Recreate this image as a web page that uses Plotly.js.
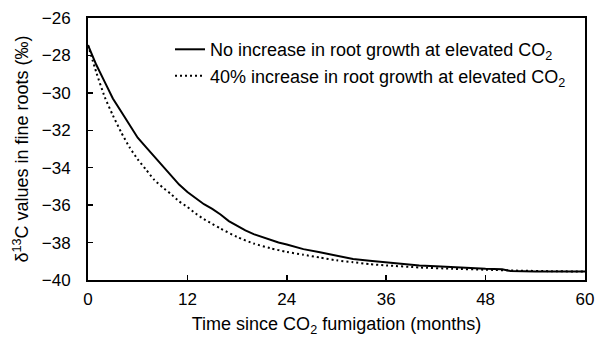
<!DOCTYPE html>
<html>
<head>
<meta charset="utf-8">
<script src="https://cdn.plot.ly/plotly-3.0.1.min.js"></script>
<style>html,body{margin:0;padding:0;background:#fff;}#chart{width:603px;height:338px;}</style>
</head>
<body>
<div id="chart"></div>
<script>
var monthsNoIncrease = [0,1,2,3,4,5,6,7,8,9,10,11,12,13,14,15,16,17,18,19,20,21,22,23,24,26,28,30,32,34,36,38,40,42,44,46,48,50,51,54,57,60];
var deltaNoIncrease = [-27.45,-28.5,-29.4,-30.3,-31.0,-31.7,-32.4,-32.9,-33.4,-33.9,-34.45,-34.9,-35.3,-35.65,-35.95,-36.2,-36.5,-36.85,-37.1,-37.35,-37.55,-37.7,-37.85,-38.0,-38.1,-38.35,-38.52,-38.7,-38.88,-38.97,-39.06,-39.15,-39.22,-39.27,-39.32,-39.37,-39.4,-39.42,-39.52,-39.54,-39.54,-39.54];
var months40pct = [0,1,2,3,4,5,6,7,8,9,10,11,12,13,14,15,16,18,20,22,24,26,28,30,32,34,36,40,44,48,52,56,60];
var delta40pct = [-27.45,-28.9,-30.2,-31.2,-32.1,-32.9,-33.55,-34.1,-34.65,-35.05,-35.4,-35.8,-36.1,-36.45,-36.75,-37.0,-37.25,-37.7,-38.05,-38.3,-38.5,-38.65,-38.8,-38.95,-39.05,-39.15,-39.22,-39.33,-39.4,-39.45,-39.5,-39.53,-39.55];
var xTicks = [0,12,24,36,48,60];
var yTicks = [-40,-38,-36,-34,-32,-30,-28,-26];
var yTickLabels = yTicks.map(function(v){return '\u2212' + Math.abs(v);});

var fam = 'Liberation Sans, Arial, sans-serif';
var titleFont = {family: fam, size: 18, color: '#000'};
var tickFont = {family: fam, size: 17, color: '#000'};
var traces = [
  {x: monthsNoIncrease, y: deltaNoIncrease, mode: 'lines', name: 'No increase in root growth at elevated CO<sub>2</sub>',
   line: {color: '#000', width: 2, shape: 'linear'}},
  {x: months40pct, y: delta40pct, mode: 'lines', name: '40% increase in root growth at elevated CO<sub>2</sub>',
   line: {color: '#000', width: 2, dash: '2px,3px', shape: 'spline', smoothing: 0.6}}
];
var layout = {
  width: 603, height: 338,
  margin: {l: 88, r: 18, t: 18, b: 58},
  paper_bgcolor: '#fff', plot_bgcolor: '#fff',
  font: titleFont,
  showlegend: true,
  legend: {x: 0.165, y: 0.95, xanchor: 'left', yanchor: 'top', bgcolor: 'rgba(0,0,0,0)', font: titleFont, tracegroupgap: 0},
  xaxis: {range: [0, 60], tickvals: xTicks, ticktext: xTicks.map(String), ticks: 'inside', ticklen: 5, tickwidth: 1.5, tickcolor: '#000',
    tickfont: tickFont, ticklabelstandoff: 3,
    showline: true, linecolor: '#000', linewidth: 2, mirror: true, showgrid: false, zeroline: false,
    title: {text: 'Time since CO<sub>2</sub> fumigation (months)', font: titleFont, standoff: 9}},
  yaxis: {range: [-40, -26], tickvals: yTicks, ticktext: yTickLabels, ticks: 'inside', ticklen: 5, tickwidth: 1.5, tickcolor: '#000',
    tickfont: tickFont, ticklabelstandoff: 12,
    showline: true, linecolor: '#000', linewidth: 2, mirror: true, showgrid: false, zeroline: false,
    title: {text: '\u03b4<sup>13</sup>C values in fine roots (\u2030)', font: titleFont, standoff: 8}}
};
Plotly.newPlot('chart', traces, layout, {displayModeBar: false, staticPlot: true});
</script>
</body>
</html>
